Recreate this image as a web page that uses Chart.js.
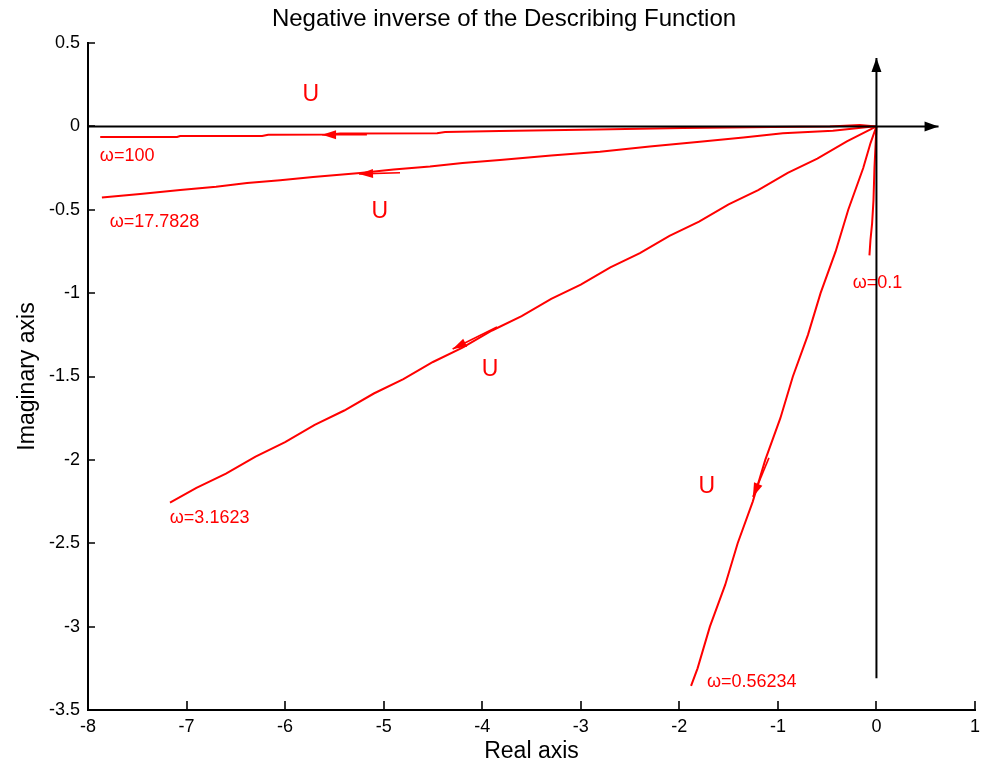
<!DOCTYPE html>
<html><head><meta charset="utf-8">
<script src="https://cdn.jsdelivr.net/npm/chart.js@4.4.1/dist/chart.umd.min.js"></script>
<style>html,body{margin:0;padding:0;background:#fff}#wrap{width:987px;height:764px}</style>
</head><body><div id="wrap"><canvas id="c" width="987" height="764"></canvas></div>
<script>
// ---- tick labels ----
const xTickValues = [-8,-7,-6,-5,-4,-3,-2,-1,0,1];
const xTickLabels = ['-8','-7','-6','-5','-4','-3','-2','-1','0','1'];
const yTickValues = [-3.5,-3,-2.5,-2,-1.5,-1,-0.5,0,0.5];
const yTickLabels = ['-3.5','-3','-2.5','-2','-1.5','-1','-0.5','0','0.5'];

// ---- curves (real part, imaginary part) ----
const w100Re = [-7.876,-7.096,-7.065,-6.233,-6.172,-5.544,-5.442,-4.458,-4.377,-3.820,-2.836,-1.964,-1.051,-0.473,-0.169,0];
const w100Im = [-0.064,-0.064,-0.058,-0.058,-0.050,-0.048,-0.042,-0.041,-0.034,-0.028,-0.019,-0.010,-0.004,-0.001,0.008,0];

const w17Re = [-7.859,-7.471,-7.065,-6.700,-6.386,-6.050,-5.716,-5.239,-4.900,-4.530,-4.200,-3.820,-3.300,-2.806,-2.300,-1.792,-1.350,-0.950,-0.442,-0.037,0];
const w17Im = [-0.427,-0.405,-0.381,-0.362,-0.339,-0.323,-0.303,-0.279,-0.258,-0.240,-0.219,-0.201,-0.175,-0.152,-0.120,-0.092,-0.066,-0.041,-0.026,-0.001,0];

const w3Re = [-7.168,-6.900,-6.600,-6.300,-6.000,-5.700,-5.400,-5.100,-4.800,-4.500,-4.200,-3.900,-3.600,-3.300,-3.000,-2.700,-2.400,-2.100,-1.800,-1.500,-1.200,-0.900,-0.600,-0.300,0];
const w3Im = [-2.257,-2.168,-2.083,-1.980,-1.893,-1.790,-1.704,-1.602,-1.516,-1.413,-1.327,-1.224,-1.138,-1.035,-0.949,-0.846,-0.760,-0.657,-0.571,-0.468,-0.382,-0.279,-0.193,-0.090,0];

const w056Re = [-1.881,-1.815,-1.690,-1.535,-1.408,-1.255,-1.128,-0.975,-0.848,-0.695,-0.567,-0.414,-0.286,-0.134,-0.060,0];
const w056Im = [-3.355,-3.250,-3.000,-2.750,-2.500,-2.250,-2.000,-1.750,-1.500,-1.250,-1.000,-0.750,-0.500,-0.250,-0.100,0];

const w01Re = [0,-0.010,-0.020,-0.030,-0.044,-0.061,-0.071];
const w01Im = [0,-0.126,-0.246,-0.444,-0.582,-0.684,-0.774];

// ---- direction arrows on the curves (from -> to) ----
const arrowFromRe = [-5.17,-4.834,-3.85,-1.091];
const arrowFromIm = [-0.050,-0.278,-1.203,-1.988];
const arrowToRe   = [-5.625,-5.25,-4.30,-1.254];
const arrowToIm   = [-0.050,-0.285,-1.335,-2.222];

// ---- black coordinate axes with arrows ----
const axisHRe = [-8, 0.63];
const axisHIm = [0, 0];
const axisVRe = [0, 0];
const axisVIm = [-3.31, 0.41];

// ---- annotations ----
const uLabelRe = [-5.74,-5.04,-3.92,-1.72];
const uLabelIm = [0.19,-0.51,-1.46,-2.16];
const omegaTexts = ['ω=100','ω=17.7828','ω=3.1623','ω=0.56234','ω=0.1'];
const omegaRe = [-7.88,-7.78,-7.17,-1.72,-0.24];
const omegaIm = [-0.18,-0.575,-2.35,-3.33,-0.94];

const RED = '#ff0000';
const toXY = (xs, ys) => xs.map((x, i) => ({x, y: ys[i]}));
const line = (data, color, w) => ({data, borderColor: color, backgroundColor: color, borderWidth: w, showLine: true, pointRadius: 0, tension: 0, fill: false});

const datasets = [
  line(toXY(axisHRe, axisHIm), '#000', 2),
  line(toXY(axisVRe, axisVIm), '#000', 2),
  line(toXY(w100Re, w100Im), RED, 2),
  line(toXY(w17Re, w17Im), RED, 2),
  line(toXY(w3Re, w3Im), RED, 2),
  line(toXY(w056Re, w056Im), RED, 2),
  line(toXY(w01Re, w01Im), RED, 2),
];
arrowFromRe.forEach((_, i) => {
  datasets.push(line([{x: arrowFromRe[i], y: arrowFromIm[i]}, {x: arrowToRe[i], y: arrowToIm[i]}], RED, 1.6));
});

function drawHead(ctx, x0, y0, x1, y1, len, half, color) {
  const a = Math.atan2(y1 - y0, x1 - x0);
  ctx.save();
  ctx.translate(x1, y1);
  ctx.rotate(a);
  ctx.beginPath();
  ctx.moveTo(0, 0);
  ctx.lineTo(-len, -half);
  ctx.lineTo(-len, half);
  ctx.closePath();
  ctx.fillStyle = color;
  ctx.fill();
  ctx.restore();
}

const overlay = {
  id: 'overlay',
  beforeDraw(chart) {
    const c = chart.ctx; c.save(); c.fillStyle = '#fff'; c.fillRect(0, 0, chart.width, chart.height); c.restore();
  },
  beforeDatasetsDraw(chart) {
    const c = chart.ctx, xs = chart.scales.x, ys = chart.scales.y;
    c.save();
    c.fillStyle = RED;
    c.textBaseline = 'middle';
    c.textAlign = 'center';
    c.font = '23px "Liberation Sans", Arial, sans-serif';
    uLabelRe.forEach((v, i) => c.fillText('U', xs.getPixelForValue(v), ys.getPixelForValue(uLabelIm[i])));
    c.textAlign = 'left';
    c.font = '18px "Liberation Sans", Arial, sans-serif';
    omegaTexts.forEach((t, i) => c.fillText(t, xs.getPixelForValue(omegaRe[i]), ys.getPixelForValue(omegaIm[i])));
    c.restore();
  },
  afterDatasetsDraw(chart) {
    const c = chart.ctx, xs = chart.scales.x, ys = chart.scales.y;
    arrowFromRe.forEach((_, i) => {
      drawHead(c, xs.getPixelForValue(arrowFromRe[i]), ys.getPixelForValue(arrowFromIm[i]),
        xs.getPixelForValue(arrowToRe[i]), ys.getPixelForValue(arrowToIm[i]), 14, 4.5, RED);
    });
    drawHead(c, xs.getPixelForValue(axisHRe[0]), ys.getPixelForValue(axisHIm[0]),
      xs.getPixelForValue(axisHRe[1]), ys.getPixelForValue(axisHIm[1]), 14, 5, '#000');
    drawHead(c, xs.getPixelForValue(axisVRe[0]), ys.getPixelForValue(axisVIm[0]),
      xs.getPixelForValue(axisVRe[1]), ys.getPixelForValue(axisVIm[1]), 14, 5, '#000');
  },
  afterDraw(chart) {
    const c = chart.ctx, xs = chart.scales.x, ys = chart.scales.y, a = chart.chartArea;
    c.save();
    c.strokeStyle = '#000';
    c.lineWidth = 1.6;
    c.beginPath();
    xTickValues.forEach(v => { const p = Math.round(xs.getPixelForValue(v)); c.moveTo(p, a.bottom); c.lineTo(p, a.bottom - 9); });
    yTickValues.forEach(v => { const p = Math.round(ys.getPixelForValue(v)); c.moveTo(a.left, p); c.lineTo(a.left + 7, p); });
    c.stroke();
    c.restore();
  }
};

const tickFont = {family: '"Liberation Sans", Arial, sans-serif', size: 18};
const titleFont = {family: '"Liberation Sans", Arial, sans-serif', size: 23};

new Chart(document.getElementById('c'), {
  type: 'scatter',
  data: {datasets},
  plugins: [overlay],
  options: {
    responsive: false,
    devicePixelRatio: 1,
    animation: false,
    layout: {padding: {left: 33, right: 12, top: 0, bottom: 0}},
    plugins: {
      legend: {display: false},
      tooltip: {enabled: false},
      title: {
        display: true,
        text: 'Negative inverse of the Describing Function',
        color: '#000',
        font: {family: '"Liberation Sans", Arial, sans-serif', size: 24, weight: 'normal'},
        padding: {top: 5, bottom: 9.2}
      }
    },
    scales: {
      x: {
        type: 'linear', min: -8, max: 1,
        afterBuildTicks: s => { s.ticks = xTickValues.map(v => ({value: v})); },
        afterFit: s => { s.height = 54; },
        ticks: {color: '#000', font: tickFont, padding: 6, autoSkip: false, maxRotation: 0,
          callback: (v) => xTickLabels[xTickValues.indexOf(v)]},
        grid: {display: true, drawOnChartArea: false, drawTicks: false},
        border: {display: true, color: '#000', width: 2},
        title: {display: true, text: 'Real axis', color: '#000', font: titleFont, padding: {top: 0, bottom: -1}}
      },
      y: {
        type: 'linear', min: -3.5, max: 0.5,
        afterBuildTicks: s => { s.ticks = yTickValues.map(v => ({value: v})); },
        afterFit: s => { s.width = 55; },
        ticks: {color: '#000', font: tickFont, padding: 8, autoSkip: false,
          callback: (v) => yTickLabels[yTickValues.indexOf(v)]},
        grid: {display: true, drawOnChartArea: false, drawTicks: false},
        border: {display: true, color: '#000', width: 2},
        title: {display: true, text: 'Imaginary axis', color: '#000', font: titleFont, padding: {top: -18.8, bottom: 0}}
      }
    }
  }
});
</script>
</body></html>
